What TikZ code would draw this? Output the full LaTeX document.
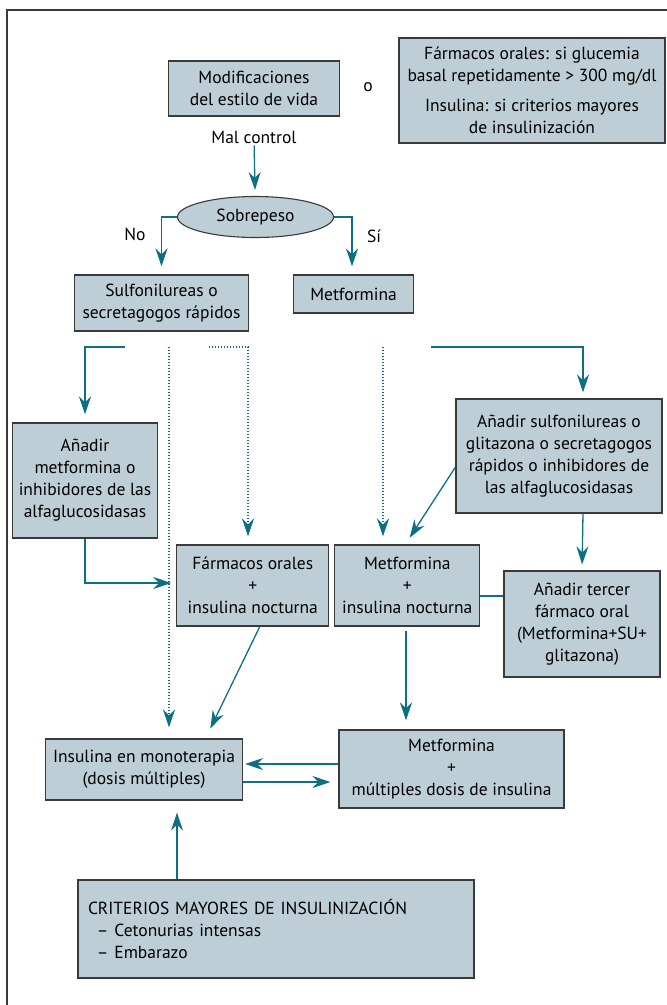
\documentclass[tikz,border=0pt]{standalone}
\usepackage{fontspec}
\setmainfont{PT Sans}
\usetikzlibrary{arrows.meta,shapes.geometric}

\definecolor{boxfill}{HTML}{BDCED6}
\definecolor{boxline}{HTML}{3A3A3A}
\definecolor{flowcol}{HTML}{0F6F82}

\tikzset{
  box/.style={draw=boxline, fill=boxfill, line width=1.1pt, align=center,
              inner sep=2pt, font=\fontsize{17.5}{22}\selectfont},
  txt/.style={font=\fontsize{17.5}{22}\selectfont, inner sep=1pt},
  flow/.style={draw=flowcol, line width=1.3pt,
               -{Stealth[length=18pt,width=12pt,inset=6pt]}},
  link/.style={draw=flowcol, line width=1.3pt},
  dots/.style={draw=flowcol, line width=1.2pt, dash pattern=on 1.2pt off 1.8pt,
               -{Stealth[length=18pt,width=12pt,inset=6pt]}},
}

\begin{document}
\begin{tikzpicture}[x=1pt,y=-1pt]
\useasboundingbox (0,0) rectangle (667,1005);
\draw[boxline, line width=1.3pt] (7,1005) -- (7,10) -- (667,10);

% top row
\node (modif)  [box, minimum width=171pt, minimum height=55pt]  at (254,88.5)  {Modificaciones\\del estilo de vida};
\node (oLbl)   [txt]                                            at (368,87)    {o};
\node (farm)   [box, minimum width=266pt, minimum height=105pt] at (532,90.5)  {Fármacos orales: si glucemia\\basal repetidamente > 300 mg/dl\\[8pt]Insulina: si criterios mayores\\de insulinización};
\node (malCtrl)[txt]                                            at (254,137)   {Mal control};

% decision
\node (sobre)  [box, ellipse, inner sep=0pt, minimum width=156pt, minimum height=41pt] at (255.5,217) {Sobrepeso};
\node (noLbl)  [txt]                                            at (135,234)   {No};
\node (siLbl)  [txt]                                            at (374,236)   {Sí};

\node (sulfo)  [box, minimum width=174pt, minimum height=56pt]  at (161.5,303) {Sulfonilureas o\\secretagogos rápidos};
\node (metf)   [box, minimum width=120pt, minimum height=38pt]  at (353.6,294) {Metformina};

% second step
\node (addMetf)[box, minimum width=145pt, minimum height=115pt] at (85,480.5)  {Añadir\\metformina o\\inhibidores de las\\alfaglucosidasas};
\node (addSulf)[box, minimum width=206pt, minimum height=114pt] at (559,456)   {Añadir sulfonilureas o\\glitazona o secretagogos\\rápidos o inhibidores de\\las alfaglucosidasas};
\node (farmIns)[box, minimum width=152pt, minimum height=81pt]  at (252.8,585.5) {Fármacos orales\\+\\insulina nocturna};
\node (metfIns)[box, minimum width=145pt, minimum height=81pt]  at (407.3,585.5) {Metformina\\+\\insulina nocturna};
\node (tercer) [box, minimum width=156pt, minimum height=106pt] at (582,624)   {Añadir tercer\\fármaco oral\\(Metformina+SU+\\glitazona)};

% insulin
\node (insMono)[box, minimum width=197pt, minimum height=61pt]  at (144,769.5) {Insulina en monoterapia\\(dosis múltiples)};
\node (metfMul)[box, minimum width=225pt, minimum height=78pt]  at (451.5,769) {Metformina\\+\\múltiples dosis de insulina};
\node (crit)   [box, minimum width=396pt, minimum height=98pt, text width=376pt, align=left] at (276,929)
  {CRITERIOS MAYORES DE INSULINIZACIÓN\\\hspace*{9pt}– Cetonurias intensas\\\hspace*{9pt}– Embarazo};

% free ends
\coordinate (s1) at (124.7,347);
\coordinate (s2) at (169,347);
\coordinate (s3) at (208.5,347);
\coordinate (s4) at (383,347);
\coordinate (s5) at (430.6,347);

\path    (malCtrl)  edge[flow, shorten <=1pt, shorten >=6pt]  (sobre);
\draw[flow, shorten >=8pt]  (sobre.west) -| (sulfo.north);
\draw[flow, shorten >=8pt]  (sobre.east) -| ([xshift=-1.6pt]metf.north);

\draw[flow, shorten >=8pt]  (s1) -| (addMetf.north);
\draw[dots, shorten >=11pt] (s2) -- (s2 |- insMono.north);
\draw[dots, shorten >=8pt]  (s3) -| ([xshift=-4.8pt]farmIns.north);
\draw[dots, shorten >=8pt]  (s4) -- (s4 |- metfIns.north);
\draw[flow, shorten >=6pt]  (s5) -| ([xshift=24pt]addSulf.north);

\draw[flow, shorten >=8pt]  ([yshift=-11pt]addSulf.west) -- ([xshift=-2pt]metfIns.north);
\draw[flow, shorten >=6pt]  ([xshift=24pt]addSulf.south) -- (tercer.north);
\draw[link]                 ([yshift=-10.5pt]metfIns.east) -- ([yshift=-10.5pt]metfIns.east -| tercer.west);
\draw[flow, shorten >=5pt]  (addMetf.south) |- ([yshift=2.5pt]farmIns.west);

\draw[flow, shorten >=11pt] ([xshift=7pt]farmIns.south) -- ([xshift=61.5pt]insMono.north);
\draw[flow, shorten <=4pt, shorten >=9pt] ([xshift=-1.3pt]metfIns.south) -- ([xshift=-1.3pt]metfIns.south |- metfMul.north);

\draw[flow, shorten >=2pt]  ([yshift=5pt]metfMul.west) -- ([yshift=5pt]metfMul.west -| insMono.east);
\draw[flow, shorten >=8pt]  ([yshift=-12.5pt]insMono.east) -- ([yshift=-12.5pt]insMono.east -| metfMul.west);
\draw[flow, shorten >=12pt] ([xshift=-99pt]crit.north) -- ([xshift=-99pt]crit.north |- insMono.south);
\end{tikzpicture}
\end{document}
